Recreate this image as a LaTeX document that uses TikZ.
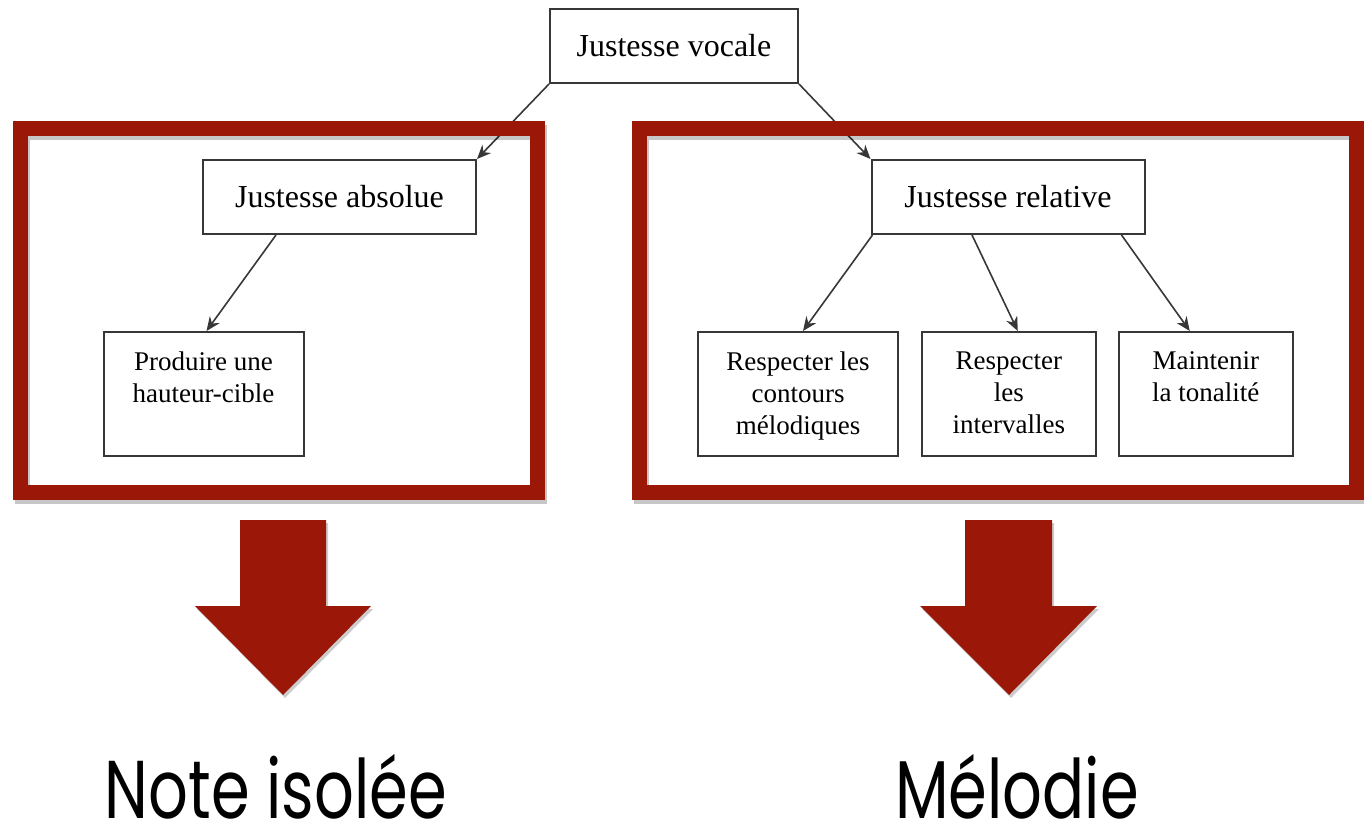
\documentclass[tikz,border=0pt]{standalone}
\usepackage{fontspec}
\setmainfont{Liberation Serif}
\newfontfamily\labelfont{Poppins}
\usetikzlibrary{arrows.meta}
\definecolor{framered}{RGB}{155,24,8}
\definecolor{boxline}{RGB}{55,55,55}

\begin{document}
\begin{tikzpicture}[x=0.5pt,y=-0.5pt,
  box/.style={draw=boxline, line width=1pt, fill=white, inner sep=0pt},
  bigbox/.style={box, minimum height=37pt, font=\fontsize{16}{19}\selectfont},
  smallbox/.style={box, minimum height=62pt},
  boxtext/.style={inner sep=0pt, anchor=north, align=center, yshift=-10pt,
    font=\fontsize{13.5}{16}\selectfont},
  link/.style={draw=boxline, line width=0.8pt, -{Stealth[length=7pt,width=6pt]}},
  frame/.style={draw=framered, line width=7.5pt, inner sep=0pt, minimum height=182pt},
  frameshadow/.style={draw=black, opacity=0.22, line width=7.5pt},
  bigarrow/.style={fill=framered},
  arrowshadow/.style={fill=black, opacity=0.2},
  caption/.style={font=\labelfont\fontsize{41}{48}\selectfont, inner sep=0pt, anchor=base}
]
\useasboundingbox (0,0) rectangle (1364,828);

% top of the tree
\node[bigbox, minimum width=124pt] (vocale) at (674,46) {Justesse vocale};

% left branch
\node[bigbox, minimum width=136.5pt] (absolue) at (339.5,197) {Justesse absolue};
\node[smallbox, minimum width=100pt] (produire) at (203.5,394) {};
\node[boxtext] (produiretxt) at (produire.north) {Produire une\\hauteur-cible};

% right branch
\node[bigbox, minimum width=136.5pt] (relative) at (1008,197) {Justesse relative};
\node[smallbox, minimum width=100pt] (contours) at (798,394) {};
\node[boxtext] (contourstxt) at (contours.north) {Respecter les\\contours\\mélodiques};
\node[smallbox, minimum width=86.75pt] (intervalles) at (1008.75,394) {};
\node[boxtext] (intervallestxt) at (intervalles.north) {Respecter\\les\\intervalles};
\node[smallbox, minimum width=86.75pt] (tonalite) at (1205.75,394) {};
\node[boxtext] (tonalitetxt) at (tonalite.north) {Maintenir\\la tonalité};

% tree connectors
\draw[link] (vocale.south west) -- (absolue.north east);
\draw[link] (vocale.south east) -- (relative.north west);
\draw[link] ([xshift=37pt]absolue.south west) -- ([xshift=1.5pt]produire.north);
\draw[link] ([xshift=1pt]relative.south west) -- ([xshift=2.5pt]contours.north);
\draw[link] ([xshift=-18pt]relative.south) -- ([xshift=4.5pt]intervalles.north);
\draw[link] ([xshift=-12pt]relative.south east) -- ([xshift=-8pt]tonalite.north);

% red frames with their soft shadows
\draw[frameshadow] (22.5,132.5) rectangle (539.5,496.5);
\draw[frameshadow] (641.5,132.5) rectangle (1358.5,496.5);
\node[frame, minimum width=258.5pt] (absframe) at (279,310.5) {};
\node[frame, minimum width=358.5pt] (relframe) at (998,310.5) {};

% block arrows
\fill[arrowshadow] (242,523) -- (328,523) -- (328,609) -- (373,609) -- (285,698) -- (197,609) -- (242,609) -- cycle;
\fill[bigarrow] (240,520) -- (326,520) -- (326,606) -- (371,606) -- (283,695) -- (195,606) -- (240,606) -- cycle;
\fill[arrowshadow] (967,523) -- (1054,523) -- (1054,609) -- (1099,609) -- (1011,698) -- (922,609) -- (967,609) -- cycle;
\fill[bigarrow] (965,520) -- (1052,520) -- (1052,606) -- (1097,606) -- (1009,695) -- (920,606) -- (965,606) -- cycle;

% outcomes
\node[caption] (noteisolee) at (276,818) {\scalebox{0.76}[1]{Note isolée}};
\node[caption] (melodie) at (1017,818) {\scalebox{0.76}[1]{Mélodie}};
\end{tikzpicture}
\end{document}
